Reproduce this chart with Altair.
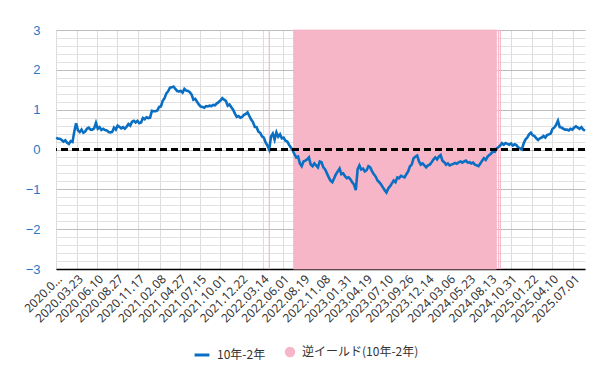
import altair as alt
import pandas as pd

# weekly readings of the 10y-2y spread (first week 2020-01-03, step 7 days)
start_date = "2020-01-03"
spread = [
    # 2020
    0.30, 0.27, 0.27, 0.24, 0.20, 0.23, 0.17, 0.14, 0.21, 0.19, 0.45, 0.66, 0.48,
    0.44, 0.50, 0.42, 0.45, 0.52, 0.55, 0.50, 0.50, 0.53, 0.67, 0.52, 0.56, 0.49,
    0.52, 0.49, 0.48, 0.44, 0.43, 0.44, 0.55, 0.50, 0.60, 0.57, 0.53, 0.56, 0.52,
    0.57, 0.64, 0.60, 0.70, 0.72, 0.68, 0.72, 0.66, 0.68, 0.79, 0.76, 0.81, 0.79,
    # 2021
    0.80, 0.97, 0.96, 0.96, 0.98, 1.07, 1.08, 1.22, 1.29, 1.41, 1.46, 1.55, 1.56,
    1.58, 1.52, 1.47, 1.46, 1.47, 1.43, 1.52, 1.48, 1.47, 1.44, 1.38, 1.25, 1.27,
    1.20, 1.13, 1.08, 1.07, 1.05, 1.09, 1.08, 1.10, 1.09, 1.12, 1.11, 1.16, 1.19,
    1.23, 1.29, 1.25, 1.22, 1.10, 1.13, 1.06, 1.00, 0.90, 0.82, 0.84, 0.80, 0.82,
    0.87,
    # 2022
    0.89, 0.93, 0.84, 0.75, 0.69, 0.57, 0.56, 0.45, 0.42, 0.33, 0.30, 0.18, 0.10,
    0.00, 0.33, 0.40, 0.25, 0.43, 0.32, 0.38, 0.28, 0.30, 0.22, 0.20, 0.12, 0.05,
    -0.02, -0.12, -0.20, -0.18, -0.35, -0.42, -0.30, -0.28, -0.25, -0.20, -0.38, -0.42, -0.35,
    -0.40, -0.45, -0.30, -0.32, -0.45, -0.50, -0.60, -0.70, -0.78, -0.82, -0.72, -0.62, -0.55,
    # 2023
    -0.48, -0.62, -0.60, -0.67, -0.72, -0.70, -0.75, -0.82, -0.88, -1.02, -0.50, -0.40, -0.50,
    -0.48, -0.55, -0.52, -0.42, -0.45, -0.55, -0.62, -0.68, -0.78, -0.82, -0.88, -0.95, -1.02,
    -1.08, -0.98, -0.92, -0.85, -0.78, -0.82, -0.70, -0.72, -0.66, -0.68, -0.70, -0.62, -0.55,
    -0.42, -0.38, -0.22, -0.18, -0.15, -0.30, -0.38, -0.35, -0.40, -0.45, -0.40, -0.38, -0.32,
    # 2024
    -0.25, -0.20, -0.25, -0.18, -0.14, -0.28, -0.32, -0.38, -0.35, -0.40, -0.38, -0.36, -0.34,
    -0.36, -0.32, -0.30, -0.33, -0.30, -0.28, -0.33, -0.32, -0.35, -0.33, -0.38, -0.40, -0.42,
    -0.35, -0.28, -0.22, -0.26, -0.18, -0.14, -0.10, -0.05, -0.06, 0.02, 0.06, 0.10, 0.16,
    0.12, 0.16, 0.14, 0.12, 0.15, 0.10, 0.13, 0.11, 0.05, 0.03, 0.00, 0.15, 0.25,
    # 2025
    0.30, 0.38, 0.42, 0.36, 0.34, 0.28, 0.24, 0.28, 0.30, 0.34, 0.30, 0.36, 0.38,
    0.40, 0.52, 0.55, 0.62, 0.72, 0.56, 0.55, 0.52, 0.50, 0.50, 0.48, 0.52, 0.50,
    0.55, 0.58, 0.55, 0.52, 0.56, 0.50, 0.47,
]

# inverted-yield periods (spread below zero)
inv_start = ["2022-04-08", "2022-07-11", "2024-09-13", "2024-09-20"]
inv_end = ["2022-04-09", "2024-09-06", "2024-09-14", "2024-09-21"]

# x-axis tick labels
tick_dates = [
    "2020-01-02", "2020-03-23", "2020-06-10", "2020-08-27", "2020-11-17", "2021-02-08",
    "2021-04-27", "2021-07-15", "2021-10-01", "2021-12-22", "2022-03-14", "2022-06-01",
    "2022-08-19", "2022-11-08", "2023-01-31", "2023-04-19", "2023-07-10", "2023-09-26",
    "2023-12-14", "2024-03-06", "2024-05-23", "2024-08-13", "2024-10-31", "2025-01-22",
    "2025-04-10", "2025-07-01",
]

line_name = "10年-2年"
inv_name = "逆イールド(10年-2年)"
line_color = "#0a6fc2"
pink = "#f7b5c8"

dates = pd.date_range(start_date, periods=len(spread), freq="7D")
line_df = pd.DataFrame({"date": dates, "value": spread, "series": line_name})
inv_df = pd.DataFrame({"start": pd.to_datetime(inv_start), "end": pd.to_datetime(inv_end),
                       "series": inv_name})

x_scale = alt.Scale(domain=[alt.DateTime(year=2020, month=1, date=2),
                            alt.DateTime(year=2025, month=8, date=15)])
y_scale = alt.Scale(domain=[-3, 3], nice=False)
tick_vals = [alt.DateTime(year=int(d[:4]), month=int(d[5:7]), date=int(d[8:10])) for d in tick_dates]

leg_common = dict(title=None, orient="none", direction="horizontal",
                  labelFont="Noto Sans CJK JP", labelFontSize=12, labelColor="#333333",
                  padding=0, labelOffset=6)

# minor grid layer
minor = alt.Chart(line_df).mark_point(opacity=0).encode(
    x=alt.X("date:T", scale=x_scale, axis=alt.Axis(
        orient="bottom", values=tick_vals, grid=True, gridColor="#dcdcdc", labels=False,
        ticks=False, domain=False, title=None)),
    y=alt.Y("value:Q", scale=y_scale, axis=alt.Axis(
        orient="left", values=[round(-3 + 0.2 * i, 1) for i in range(31)], grid=True,
        gridColor="#e2e2e2", labels=False, ticks=False, domain=False, title=None)),
)

rects = alt.Chart(inv_df).mark_rect(stroke=pink, strokeWidth=0.8).encode(
    x=alt.X("start:T", scale=x_scale, axis=None),
    x2="end:T",
    y=alt.datum(-3, scale=y_scale, axis=None),
    y2=alt.datum(3),
    fill=alt.Fill("series:N", scale=alt.Scale(domain=[inv_name], range=[pink]),
                  legend=alt.Legend(legendX=228, legendY=316, symbolType="circle",
                                    symbolSize=110, symbolStrokeWidth=0, **leg_common)),
)

line = alt.Chart(line_df).mark_line(strokeWidth=2.6).encode(
    x=alt.X("date:T", scale=x_scale, axis=alt.Axis(
        orient="bottom", values=tick_vals, grid=False, labelAngle=-45, labelFontSize=12,
        labelColor="#333333", labelFont="Noto Sans", ticks=False, domain=True,
        domainColor="#000000", domainWidth=1.5, labelPadding=4, title=None, labelOverlap=False,
        labelExpr="timeFormat(datum.value, '%Y.%m.%d') == '2020.01.02' ? '2020.0...' : timeFormat(datum.value, '%Y.%m.%d')")),
    y=alt.Y("value:Q", scale=y_scale, axis=alt.Axis(
        orient="left", values=[-3, -2, -1, 0, 1, 2, 3], grid=True, gridColor="#bdbdbd",
        labelColor="#1e78c8", labelFontSize=13, labelFont="Liberation Sans", labelPadding=16,
        ticks=False, domain=False, title=None)),
    stroke=alt.Stroke("series:N", scale=alt.Scale(domain=[line_name], range=[line_color]),
                      legend=alt.Legend(legendX=137, legendY=316, symbolType="stroke",
                                        symbolSize=220, symbolStrokeWidth=3, **leg_common)),
)

zero = alt.Chart(line_df).mark_rule(color="#000000", strokeWidth=2, strokeDash=[7, 4]).encode(
    y=alt.datum(0, scale=y_scale, axis=None),
)

chart = alt.layer(minor, rects, line, zero).resolve_axis(
    x="independent", y="independent"
).properties(
    width=529, height=239,
    autosize=alt.AutoSizeParams(type="none"),
    padding={"left": 48, "top": 22, "right": 20, "bottom": 100},
).configure_view(stroke=None)

chart.save("out.html", embed_options={"renderer": "svg", "actions": False})
